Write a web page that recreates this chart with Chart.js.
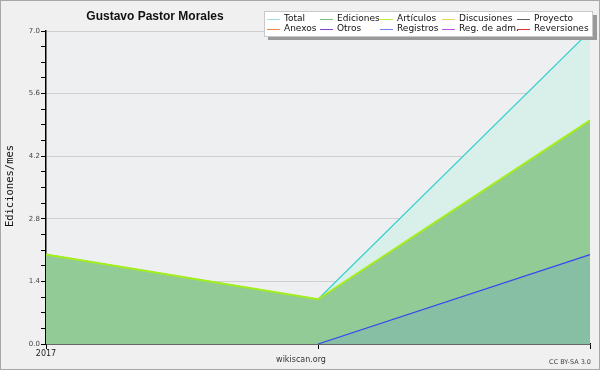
<!DOCTYPE html>
<html>
<head>
<meta charset="utf-8">
<script src="https://cdn.jsdelivr.net/npm/chart.js@4/dist/chart.umd.min.js"></script>
<style>
  html, body { margin: 0; padding: 0; background: #f0f0f0; }
  #wrap { width: 600px; height: 370px; }
</style>
</head>
<body>
<div id="wrap"><canvas id="c" width="600" height="370"></canvas></div>
<script>
// data
const labels    = ['2017', '', ''];
const total     = [2, 1, 7];
const ediciones = [2, 1, 5];
const articulos = [2, 1, 5];
const registros = [null, 0, 2];

const TITLE = 'Gustavo Pastor Morales';
const Y_TITLE = 'Ediciones/mes';

const LEGEND_NAMES = [
  ['Total', 'Ediciones', 'Artículos', 'Discusiones', 'Proyecto'],
  ['Anexos', 'Otros', 'Registros', 'Reg. de adm.', 'Reversiones'],
];
const LEGEND_COLORS = [
  ['#9ee0e0', '#7fc07f', '#b8ee40', '#f0d060', '#606060'],
  ['#f08850', '#8040d0', '#7080f0', '#c050e0', '#e03030'],
];
const LEGEND_COL_X = [267, 320, 380, 442, 517];

const decorPlugin = {
  id: 'decor',
  beforeDraw(chart) {
    const { ctx, chartArea: a } = chart;
    ctx.save();
    ctx.fillStyle = '#f0f0f0';
    ctx.fillRect(0, 0, chart.width, chart.height);
    ctx.strokeStyle = '#a8a8a8';
    ctx.lineWidth = 1;
    ctx.strokeRect(0.5, 0.5, chart.width - 1, chart.height - 1);
    ctx.fillStyle = '#eeeff1';
    ctx.fillRect(a.left, a.top, a.right - a.left, a.bottom - a.top);
    ctx.restore();
  },
  afterDraw(chart) {
    const { ctx, chartArea: a } = chart;
    ctx.save();

    // title
    ctx.fillStyle = '#111';
    ctx.font = 'bold 12px "Liberation Sans", Arial, sans-serif';
    ctx.textAlign = 'center';
    ctx.textBaseline = 'middle';
    ctx.fillText(TITLE, 155, 17);

    // y axis title
    ctx.save();
    ctx.translate(10, 186);
    ctx.rotate(-Math.PI / 2);
    ctx.font = '10.5px "DejaVu Sans Mono", monospace';
    ctx.fillStyle = '#111';
    ctx.fillText(Y_TITLE, 0, 0);
    ctx.restore();

    // footer
    ctx.font = '8px "DejaVu Sans", sans-serif';
    ctx.fillStyle = '#333';
    ctx.fillText('wikiscan.org', 301, 360);
    ctx.textAlign = 'right';
    ctx.font = '6.5px "DejaVu Sans", sans-serif';
    ctx.fillStyle = '#444';
    ctx.fillText('CC BY-SA 3.0', a.right + 1, 362);

    // legend box
    ctx.fillStyle = '#999';
    ctx.fillRect(268, 15, 329, 25);
    ctx.fillStyle = '#fff';
    ctx.fillRect(264, 11, 329, 26);
    ctx.strokeStyle = '#c8c8c8';
    ctx.strokeRect(264.5, 11.5, 328, 25);

    ctx.font = '9px "DejaVu Sans", sans-serif';
    ctx.textAlign = 'left';
    ctx.textBaseline = 'middle';
    LEGEND_NAMES.forEach((row, r) => {
      const y = 19 + r * 10;
      row.forEach((name, i) => {
        const x = LEGEND_COL_X[i];
        ctx.strokeStyle = LEGEND_COLORS[r][i];
        ctx.lineWidth = 1;
        ctx.beginPath();
        ctx.moveTo(x, y + 0.5);
        ctx.lineTo(x + 13, y + 0.5);
        ctx.stroke();
        ctx.fillStyle = '#111';
        ctx.fillText(name, x + 17, y);
      });
    });

    ctx.restore();
  },
};

new Chart(document.getElementById('c'), {
  type: 'line',
  data: {
    labels,
    datasets: [
      {
        label: 'Artículos', data: articulos,
        borderColor: '#a4ee1e', borderWidth: 2,
        pointRadius: 0, fill: false, order: 1,
      },
      {
        label: 'Registros', data: registros,
        borderColor: '#3848f0', borderWidth: 1.2,
        backgroundColor: 'rgba(90,150,210,0.22)',
        pointRadius: 0, fill: 'origin', order: 2,
      },
      {
        label: 'Ediciones', data: ediciones,
        borderColor: '#7fc07f', borderWidth: 1,
        backgroundColor: '#92cb96',
        pointRadius: 0, fill: 'origin', order: 3,
      },
      {
        label: 'Total', data: total,
        borderColor: '#3cd0d0', borderWidth: 1.2,
        backgroundColor: '#d9f0ea',
        pointRadius: 0, fill: 'origin', order: 4,
      },
    ],
  },
  options: {
    responsive: false,
    animation: false,
    layout: { padding: { top: 31, right: 10, left: 0, bottom: 0 } },
    plugins: {
      legend: { display: false },
      title: { display: false },
      tooltip: { enabled: false },
    },
    scales: {
      x: {
        offset: false,
        afterFit: s => { s.height = 26; },
        grid: { drawOnChartArea: false, tickLength: 5, tickColor: '#000' },
        border: { color: '#000', width: 1.5 },
        ticks: {
          font: { size: 8, family: 'DejaVu Sans' }, color: '#222',
          padding: 0, maxRotation: 0, autoSkip: false,
        },
      },
      y: {
        min: 0, max: 7,
        afterFit: s => { s.width = 46; },
        grid: {
          color: ctx => (ctx.index % 4 === 0 ? '#cfcfcf' : 'rgba(0,0,0,0)'),
          tickColor: '#000', tickLength: 5,
        },
        border: { color: '#000', width: 1.5 },
        ticks: {
          stepSize: 0.35,
          font: { size: 7, family: 'DejaVu Sans' }, color: '#444',
          padding: 1,
          callback: (v, i) => (i % 4 === 0 ? v.toFixed(1) : ''),
        },
      },
    },
  },
  plugins: [decorPlugin],
});
</script>
</body>
</html>
